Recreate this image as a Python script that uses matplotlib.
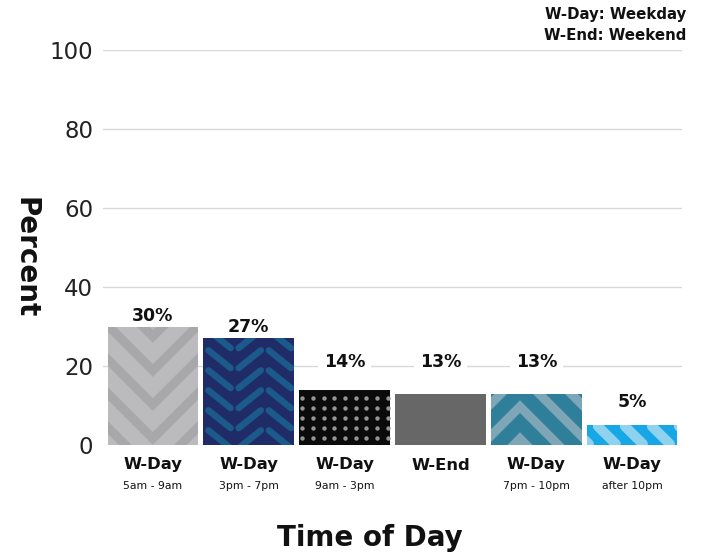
import matplotlib
matplotlib.use("Agg")
import matplotlib.pyplot as plt
from matplotlib.transforms import IdentityTransform
import numpy as np

# ---- data ----
groups = ["W-Day", "W-Day", "W-Day", "W-End", "W-Day", "W-Day"]
periods = ["5am - 9am", "3pm - 7pm", "9am - 3pm", "", "7pm - 10pm", "after 10pm"]
percent = [30, 27, 14, 13, 13, 5]
y_ticks = [0, 20, 40, 60, 80, 100]

# label heights (data units) for the value annotations
label_y = [32.7, 30.0, 21.0, 21.0, 21.0, 10.9]

base_colors = ["#bbbbbd", "#1f2c68", "#0b0b0b", "#676767", "#2f7f9b", "#18a7e6"]

plt.rcParams["font.family"] = ["DejaVu Sans"]

W, H = 701, 558
fig = plt.figure(figsize=(W / 100, H / 100), dpi=100)
ax = fig.add_axes([103 / W, 1 - 445 / H, (682 - 103) / W, (445 - 50) / H])

x = np.arange(len(percent))
bars = ax.bar(x, percent, width=0.945, color=base_colors, zorder=2,
              edgecolor="none")

ax.set_xlim(-0.52, 5.52)
ax.set_ylim(0, 100)
ax.set_yticks(y_ticks)
ax.set_yticklabels([str(v) for v in y_ticks], fontsize=16.5, color="#222222")
ax.tick_params(axis="y", length=0, pad=7)
ax.tick_params(axis="x", length=0, pad=9)
ax.grid(axis="y", color="#d9d9d9", linewidth=1.0, zorder=0)
ax.set_axisbelow(True)
for s in ax.spines.values():
    s.set_visible(False)

ax.set_xticks(x)
ax.set_xticklabels(groups, fontsize=11.8, fontweight="bold", color="#111111")
for xi, p in zip(x, periods):
    if p:
        ax.text(xi, -10.3, p, ha="center", va="center", fontsize=7.8,
                color="#111111", transform=ax.transData, clip_on=False)

# value annotations (white box breaks the gridline, sits beneath the bars)
for xi, v, ly in zip(x, percent, label_y):
    ax.text(xi, ly, f"{v}%", ha="center", va="center", fontsize=12.5,
            fontweight="bold", color="#111111", zorder=1.5,
            bbox=dict(boxstyle="square,pad=0.35", fc="white", ec="none"))

fig.text(25 / W, 1 - 258 / H, "Percent", rotation=-90, ha="center",
         va="center", fontsize=20, fontweight="bold", color="#111111")
fig.text(370 / W, 1 - 538 / H, "Time of Day", ha="center", va="center",
         fontsize=20, fontweight="bold", color="#111111")
fig.text(686 / W, 1 - 15 / H, "W-Day: Weekday", ha="right", va="center",
         fontsize=10.8, fontweight="bold", color="#111111")
fig.text(686 / W, 1 - 35 / H, "W-End: Weekend", ha="right", va="center",
         fontsize=10.8, fontweight="bold", color="#111111")

# ---- fill patterns, drawn in pixel space and clipped to each bar ----
PT = 0.72  # points per pixel at 100 dpi
ident = IdentityTransform()


def bar_px(bar):
    (bx0, by0), (bx1, by1) = ax.transData.transform(
        [(bar.get_x(), 0), (bar.get_x() + bar.get_width(), bar.get_height())])
    return bx0, by0, bx1, by1


def stroke(bar, xs, ys, color, width_px, cap="butt"):
    ln, = ax.plot(xs, ys, color=color, lw=width_px * PT, transform=ident,
                  solid_capstyle=cap, solid_joinstyle="miter", zorder=3)
    ln.set_clip_path(bar)


# bar 0: downward chevrons
b = bars[0]
x0, y0, x1, y1 = bar_px(b)
xc = (x0 + x1) / 2
L = 80
for k in range(-2, 8):
    yv = y1 - 10 - k * 34
    stroke(b, [xc - L, xc, xc + L], [yv + L, yv, yv + L], "#a8a8aa", 9)

# bar 1: herringbone dashes
b = bars[1]
x0, y0, x1, y1 = bar_px(b)
cw = (x1 - x0) / 3
for c in range(4):
    cx0 = x0 + c * cw
    for k in range(-1, 8):
        yt = y1 - 12 - k * 20
        xs = [cx0 + 5, cx0 + cw - 3]
        drop = 0.8 * (cw - 8)
        ys = [yt, yt - drop] if c % 2 == 0 else [yt - drop, yt]
        stroke(b, xs, ys, "#1b5a8b", 6.5, cap="round")

# bar 2: dot grid
b = bars[2]
x0, y0, x1, y1 = bar_px(b)
dxs = np.arange(x0 + 3, x1, 10.7)
dys = np.arange(y1 - 8, y0, -10)
gx, gy = np.meshgrid(dxs, dys)
dots, = ax.plot(gx.ravel(), gy.ravel(), "o", ms=4.4 * PT, color="#959595",
                mec="none", transform=ident, zorder=3)
dots.set_clip_path(b)

# bar 4: upward chevrons
b = bars[4]
x0, y0, x1, y1 = bar_px(b)
apx = x0 + 29
L = 120
for k in range(-2, 5):
    ay = y1 - 13 - k * 32
    stroke(b, [apx - L, apx, apx + L], [ay - L, ay, ay - L], "#7fa6b7", 9)

# bar 5: diagonal rounded stripes
b = bars[5]
x0, y0, x1, y1 = bar_px(b)
for cx in np.arange(x0 - 7, x1 + 20, 27):
    stroke(b, [cx - 9, cx + 9], [y1 - 1, y0 + 1], "#8fd2f0", 10, cap="round")

fig.savefig("out.png", dpi=100)
